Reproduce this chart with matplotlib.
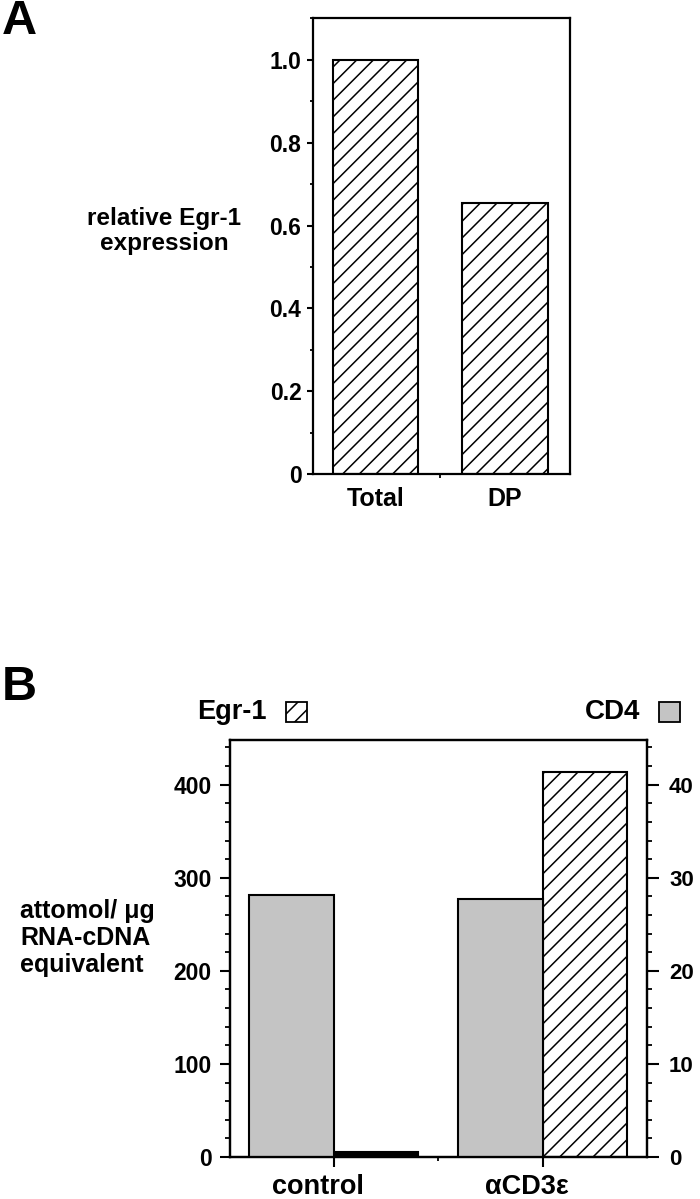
import matplotlib
matplotlib.use("Agg")
import matplotlib.pyplot as plt
from matplotlib.patches import Rectangle
from matplotlib.ticker import MultipleLocator, FixedLocator
from matplotlib.transforms import ScaledTranslation

plt.rcParams['font.family'] = ['Liberation Sans', 'DejaVu Sans']
plt.rcParams['font.weight'] = 'bold'
plt.rcParams['hatch.linewidth'] = 1.1

# ---------------- data ----------------
# Panel A
a_categories = ["Total", "DP"]
a_values = [1.0, 0.654]
a_yticks = [0, 0.2, 0.4, 0.6, 0.8, 1.0]
a_yticklabels = ["0", "0.2", "0.4", "0.6", "0.8", "1.0"]

# Panel B
b_categories = ["control", "\u03b1CD3\u03b5"]
b_egr1 = [5, 414]          # attomol/ug (left axis)
b_cd4 = [28.2, 27.7]       # right axis
b_left_ticks = [0, 100, 200, 300, 400]
b_right_ticks = [0, 10, 20, 30, 40]

fig = plt.figure(figsize=(7.0, 11.99), dpi=100)
W, H = 700.0, 1199.0
PT = 0.72  # points per pixel at dpi 100


def fx(px):
    return px / W


def fy(py):
    return 1 - py / H


# ---------------- Panel A ----------------
axA = fig.add_axes([fx(312.5), fy(474.3), fx(570) - fx(312.5), fy(18.3) - fy(474.3)])
xa = list(range(len(a_categories)))
axA.bar(xa, a_values, width=0.66, facecolor='white', edgecolor='black',
        linewidth=1.5, hatch='//', zorder=2)
axA.set_xlim(-0.489, 1.503)
axA.set_ylim(0, 1.1)
for s in axA.spines.values():
    s.set_linewidth(1.6)
axA.yaxis.set_major_locator(FixedLocator(a_yticks))
axA.set_yticklabels(a_yticklabels)
axA.yaxis.set_minor_locator(MultipleLocator(0.1))
axA.tick_params(axis='y', which='major', direction='out', length=6 * PT, width=1.5,
                pad=5 * PT, labelsize=16.5)
axA.tick_params(axis='y', which='minor', direction='out', length=3 * PT, width=1.3)
axA.set_xticks(xa)
axA.set_xticklabels(a_categories)
axA.xaxis.set_minor_locator(FixedLocator([0.5]))
axA.tick_params(axis='x', which='major', length=0, pad=13 * PT, labelsize=18)
axA.tick_params(axis='x', which='minor', direction='out', length=4 * PT, width=1.3)
for lab in axA.get_yticklabels() + axA.get_xticklabels():
    lab.set_fontweight('bold')

fig.text(fx(164), fy(231), "relative Egr-1\nexpression", ha='center', va='center',
         fontsize=17.5, fontweight='bold', linespacing=1.15)
fig.text(fx(2), fy(22), "A", ha='left', va='center', fontsize=35, fontweight='bold')

# ---------------- Panel B ----------------
axB = fig.add_axes([fx(229.6), fy(1157), fx(647) - fx(229.6), fy(740) - fy(1157)])
axB2 = axB.twinx()
xb = list(range(len(b_categories)))
w = 0.405
axB2.bar([x - w / 2 for x in xb], b_cd4, width=w, facecolor='#c4c4c4',
         edgecolor='black', linewidth=1.5, zorder=2)
egr_face = ['black', 'white']
axB.bar([x + w / 2 for x in xb], b_egr1, width=w, color=egr_face,
        edgecolor='black', linewidth=1.5, hatch='//', zorder=2)
axB.set_xlim(-0.5, 1.5)
axB.set_ylim(0, 448)
axB2.set_ylim(0, 44.8)
for s in list(axB.spines.values()) + list(axB2.spines.values()):
    s.set_linewidth(1.6)

axB.yaxis.set_major_locator(FixedLocator(b_left_ticks))
axB.yaxis.set_minor_locator(MultipleLocator(20))
axB.tick_params(axis='y', which='major', direction='out', length=10 * PT, width=1.5,
                pad=8 * PT, labelsize=16.5)
axB.tick_params(axis='y', which='minor', direction='out', length=5 * PT, width=1.3)
axB2.yaxis.set_major_locator(FixedLocator(b_right_ticks))
axB2.yaxis.set_minor_locator(MultipleLocator(2))
axB2.tick_params(axis='y', which='major', direction='out', length=12 * PT, width=1.5,
                 pad=10 * PT, labelsize=16)
axB2.tick_params(axis='y', which='minor', direction='out', length=5 * PT, width=1.3)

axB.set_xticks(xb)
axB.set_xticklabels([])
axB.xaxis.set_minor_locator(FixedLocator([0.5]))
axB.tick_params(axis='x', which='major', direction='out', length=10 * PT, width=1.5)
axB.tick_params(axis='x', which='minor', direction='out', length=4 * PT, width=1.3)
off = ScaledTranslation(-16 / 100.0, -17 / 100.0, fig.dpi_scale_trans)
for x, cat in zip(xb, b_categories):
    axB.text(x, 0, cat, transform=axB.get_xaxis_transform() + off,
             ha='center', va='top', fontsize=19.5, fontweight='bold')
for lab in axB.get_yticklabels() + axB2.get_yticklabels():
    lab.set_fontweight('bold')

fig.text(fx(20), fy(938), "attomol/ \u03bcg\nRNA-cDNA\nequivalent", ha='left', va='center',
         fontsize=18, fontweight='bold', linespacing=1.15)
fig.text(fx(2), fy(687), "B", ha='left', va='center', fontsize=35, fontweight='bold')

# legend-like labels
fig.text(fx(197), fy(712), "Egr-1", ha='left', va='center', fontsize=19.5, fontweight='bold')
fig.patches.append(Rectangle((fx(286), fy(722)), fx(21), 20 / H, transform=fig.transFigure,
                             facecolor='white', edgecolor='black', linewidth=1.3,
                             hatch='//', figure=fig))
fig.text(fx(585), fy(712), "CD4", ha='left', va='center', fontsize=20, fontweight='bold')
fig.patches.append(Rectangle((fx(659), fy(722)), fx(21), 20 / H, transform=fig.transFigure,
                             facecolor='#c4c4c4', edgecolor='black', linewidth=1.3,
                             figure=fig))

fig.savefig("out.png", dpi=100)
